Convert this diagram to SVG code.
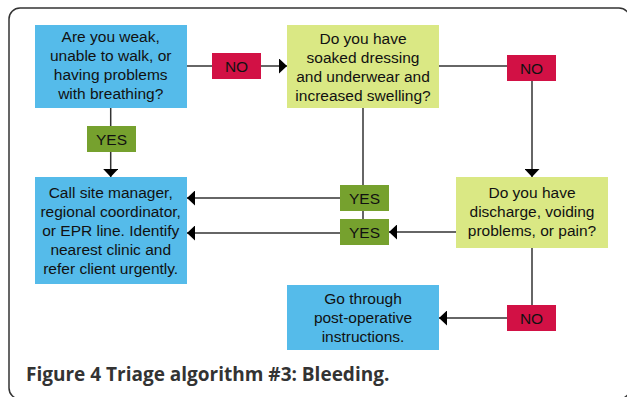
<svg xmlns="http://www.w3.org/2000/svg" width="627" height="397" viewBox="0 0 627 397">
<style>
.t{font-family:"Liberation Sans",Arial,sans-serif;font-size:15.5px;fill:#111;text-anchor:middle}
.blue{fill:#55BBEA}
.lime{fill:#DAE884}
.no{fill:#D21145}
.yes{fill:#76A12E}
.c{stroke:#333;stroke-width:1.5;fill:none}
.cap{font-family:"Open Sans","DejaVu Sans",sans-serif;font-weight:bold;font-size:19px;fill:#333}
</style>
<defs>
<marker id="ah" markerUnits="userSpaceOnUse" markerWidth="9" markerHeight="15" refX="8" refY="7.5" orient="auto">
<path d="M0,0 L8,7.5 L0,15 Z" fill="#000"/>
</marker>
</defs>
<rect x="9" y="8" width="621" height="391" rx="11" fill="#fff" stroke="#333" stroke-width="1.5"/>
<g id="connectors">
<path class="c" d="M187,66 H212"/>
<path class="c" d="M261,66 H287" marker-end="url(#ah)"/>
<path class="c" d="M110.7,108 V126"/>
<path class="c" d="M110.7,152 V177" marker-end="url(#ah)"/>
<path class="c" d="M439,66 H507"/>
<path class="c" d="M532,81 V177" marker-end="url(#ah)"/>
<path class="c" d="M363,108 V185"/>
<path class="c" d="M363,211 V219"/>
<path class="c" d="M340,198 H187" marker-end="url(#ah)"/>
<path class="c" d="M340,233 H187" marker-end="url(#ah)"/>
<path class="c" d="M456,232 H389" marker-end="url(#ah)"/>
<path class="c" d="M532,248 V305"/>
<path class="c" d="M507,318 H439" marker-end="url(#ah)"/>
</g>
<g id="q1">
<rect class="blue" x="35" y="25" width="152" height="83"/>
<text class="t" x="110.7" y="42">Are you weak,</text>
<text class="t" x="110.7" y="61">unable to walk, or</text>
<text class="t" x="110.7" y="80">having problems</text>
<text class="t" x="110.7" y="99">with breathing?</text>
</g>
<g id="q2">
<rect class="lime" x="287" y="25" width="152" height="83"/>
<text class="t" x="363" y="44">Do you have</text>
<text class="t" x="363" y="63">soaked dressing</text>
<text class="t" x="363" y="82">and underwear and</text>
<text class="t" x="363" y="101">increased swelling?</text>
</g>
<g id="refer">
<rect class="blue" x="35" y="177" width="152" height="107"/>
<text class="t" x="110.7" y="198">Call site manager,</text>
<text class="t" x="110.7" y="217">regional coordinator,</text>
<text class="t" x="110.7" y="236">or EPR line. Identify</text>
<text class="t" x="110.7" y="255">nearest clinic and</text>
<text class="t" x="110.7" y="274">refer client urgently.</text>
</g>
<g id="q3">
<rect class="lime" x="456" y="177" width="152" height="71"/>
<text class="t" x="532" y="198">Do you have</text>
<text class="t" x="532" y="217">discharge, voiding</text>
<text class="t" x="532" y="236">problems, or pain?</text>
</g>
<g id="postop">
<rect class="blue" x="287" y="285" width="152" height="65"/>
<text class="t" x="363" y="304">Go through</text>
<text class="t" x="363" y="323">post-operative</text>
<text class="t" x="363" y="342">instructions.</text>
</g>
<g id="no1">
<rect class="no" x="212" y="53" width="49" height="26"/>
<text class="t" x="236.5" y="71.5">NO</text>
</g>
<g id="yes1">
<rect class="yes" x="87" y="126" width="49" height="26"/>
<text class="t" x="111.5" y="144.5">YES</text>
</g>
<g id="no2">
<rect class="no" x="507" y="55" width="49" height="26"/>
<text class="t" x="531.5" y="73.5">NO</text>
</g>
<g id="yes2">
<rect class="yes" x="340" y="185" width="49" height="26"/>
<text class="t" x="364.5" y="203.5">YES</text>
</g>
<g id="yes3">
<rect class="yes" x="340" y="219" width="49" height="26"/>
<text class="t" x="364.5" y="237.5">YES</text>
</g>
<g id="no3">
<rect class="no" x="507" y="305" width="49" height="26"/>
<text class="t" x="531.5" y="323.5">NO</text>
</g>
<text class="cap" x="26" y="381">Figure 4 Triage algorithm #3: Bleeding.</text>
</svg>
